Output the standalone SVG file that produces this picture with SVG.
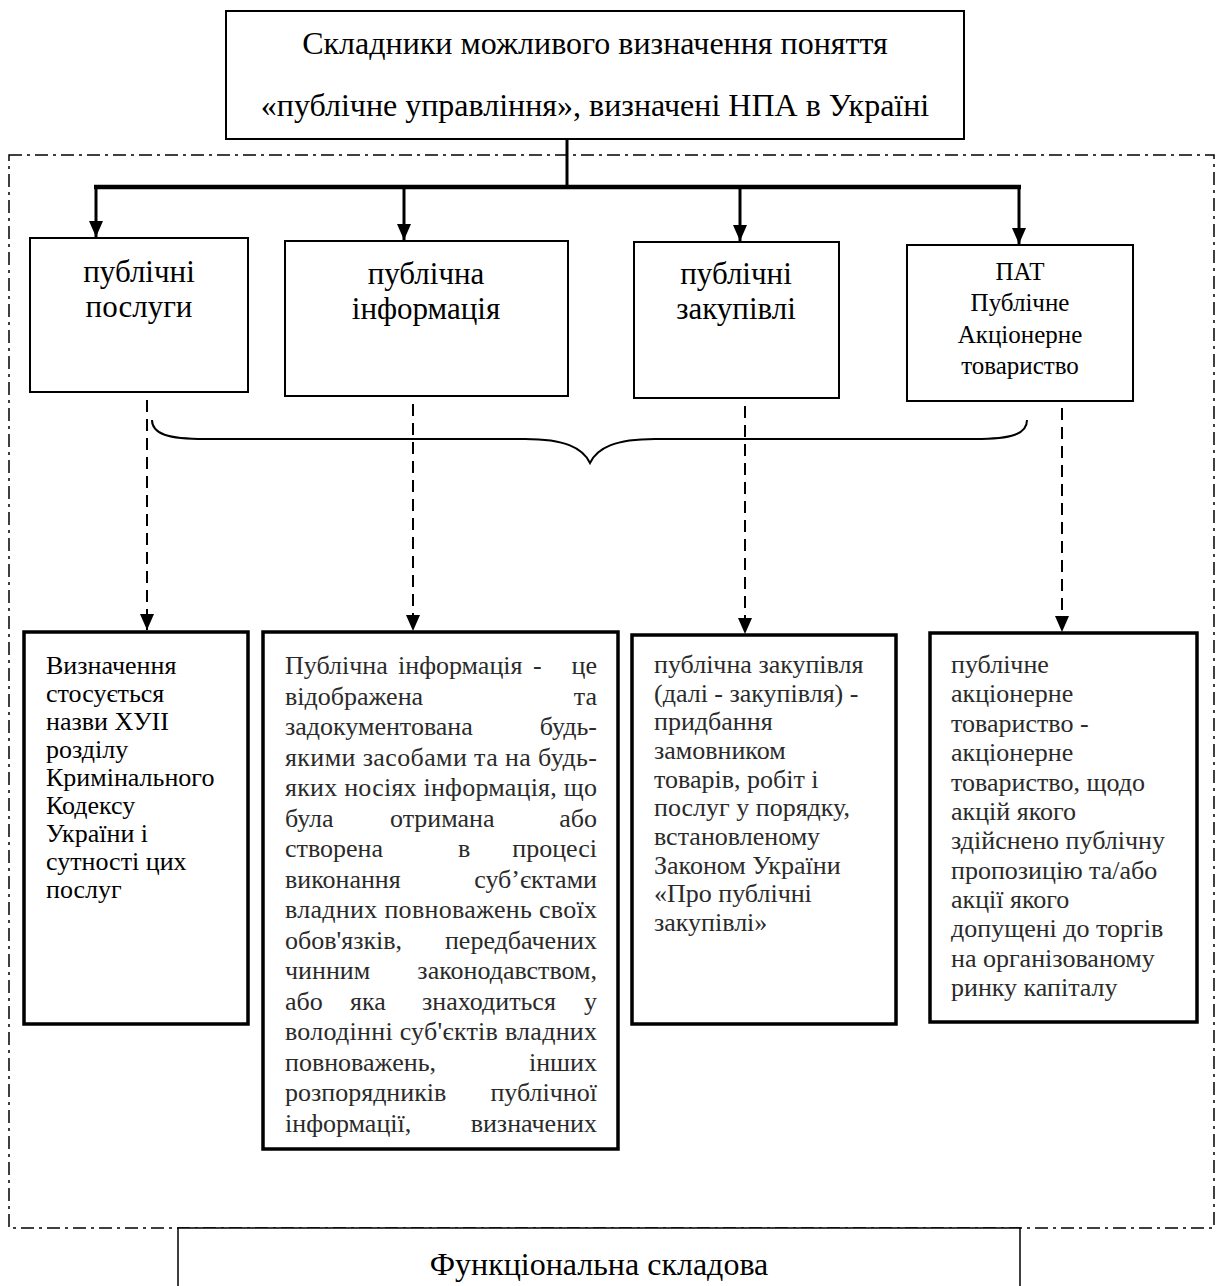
<svg xmlns="http://www.w3.org/2000/svg" width="1217" height="1286" viewBox="0 0 1217 1286">
<style>
text{font-family:"Liberation Serif","Times New Roman",serif;fill:#000}
.big{font-size:32px}
.lab{font-size:31px}
.pat{font-size:25px}
.body{font-size:26px;fill:#2a2a2a}
.bodyA{font-size:26px;fill:#000}
.thin{fill:#fff;stroke:#000;stroke-width:2}
.thick{fill:#fff;stroke:#000;stroke-width:3.5}
.solid{stroke:#000;stroke-width:3;fill:none}
.dash{stroke:#000;stroke-width:2;fill:none;stroke-dasharray:12 7}
.dd{fill:none;stroke:#000;stroke-width:1.5;stroke-dasharray:13 5 3 5}
</style>
<defs>
<marker id="ah" viewBox="0 0 16 14" refX="16" refY="7" markerWidth="16" markerHeight="14" markerUnits="userSpaceOnUse" orient="auto">
<path d="M0,0 L16,7 L0,14 z" fill="#000"/>
</marker>
</defs>
<rect x="0" y="0" width="1217" height="1286" fill="#fff"/>

<g id="frame">
<rect class="dd" x="9" y="155" width="1205" height="1073"/>
</g>

<g id="connectors">
<line class="solid" x1="567" y1="139" x2="567" y2="188"/>
<line x1="94" y1="187" x2="1021" y2="187" stroke="#000" stroke-width="4.5"/>
<line class="solid" x1="96" y1="187" x2="96" y2="237" marker-end="url(#ah)"/>
<line class="solid" x1="404" y1="187" x2="404" y2="240" marker-end="url(#ah)"/>
<line class="solid" x1="740" y1="187" x2="740" y2="241" marker-end="url(#ah)"/>
<line class="solid" x1="1019" y1="187" x2="1019" y2="244" marker-end="url(#ah)"/>
<line class="dash" x1="147" y1="400" x2="147" y2="630" marker-end="url(#ah)"/>
<line class="dash" x1="413" y1="404" x2="413" y2="631" marker-end="url(#ah)"/>
<line class="dash" x1="745" y1="406" x2="745" y2="634" marker-end="url(#ah)"/>
<line class="dash" x1="1062" y1="408" x2="1062" y2="632" marker-end="url(#ah)"/>
<path d="M152,420 C152,434 168,439 205,439 L525,439 C565,439 583,448 590,463 C597,448 615,439 655,439 L975,439 C1012,439 1027,434 1027,420" fill="none" stroke="#000" stroke-width="2"/>
</g>

<g id="title">
<rect class="thin" x="226" y="11" width="738" height="128"/>
<text class="big" x="595" y="54" text-anchor="middle">Складники можливого визначення поняття</text>
<text class="big" x="595" y="116" text-anchor="middle">«публічне управління», визначені НПА в Україні</text>
</g>

<g id="n1">
<rect class="thin" x="30" y="238" width="218" height="154"/>
<text class="lab" x="139" y="282" text-anchor="middle">публічні</text>
<text class="lab" x="139" y="317" text-anchor="middle">послуги</text>
</g>
<g id="n2">
<rect class="thin" x="285" y="241" width="283" height="155"/>
<text class="lab" x="426" y="284" text-anchor="middle">публічна</text>
<text class="lab" x="426" y="319" text-anchor="middle">інформація</text>
</g>
<g id="n3">
<rect class="thin" x="634" y="242" width="205" height="156"/>
<text class="lab" x="736" y="284" text-anchor="middle">публічні</text>
<text class="lab" x="736" y="319" text-anchor="middle">закупівлі</text>
</g>
<g id="n4">
<rect class="thin" x="907" y="245" width="226" height="156"/>
<text class="pat" x="1020" y="280" text-anchor="middle">ПАТ</text>
<text class="pat" x="1020" y="311" text-anchor="middle">Публічне</text>
<text class="pat" x="1020" y="343" text-anchor="middle">Акціонерне</text>
<text class="pat" x="1020" y="374" text-anchor="middle">товариство</text>
</g>

<g id="d1">
<rect class="thick" x="24" y="632" width="224" height="392"/>
<text class="bodyA" x="46" y="674">Визначення</text>
<text class="bodyA" x="46" y="702">стосується</text>
<text class="bodyA" x="46" y="730">назви ХУІІ</text>
<text class="bodyA" x="46" y="758">розділу</text>
<text class="bodyA" x="46" y="786">Кримінального</text>
<text class="bodyA" x="46" y="814">Кодексу</text>
<text class="bodyA" x="46" y="842">України і</text>
<text class="bodyA" x="46" y="870">сутності цих</text>
<text class="bodyA" x="46" y="898">послуг</text>
</g>

<g id="d2">
<rect class="thick" x="263" y="632" width="355" height="517"/>
<text class="body" x="285" y="674">Публічна</text>
<text class="body" x="398" y="674">інформація</text>
<text class="body" x="533" y="674">-</text>
<text class="body" x="597" y="674" text-anchor="end">це</text>
<text class="body" x="285" y="704.5">відображена</text>
<text class="body" x="597" y="704.5" text-anchor="end">та</text>
<text class="body" x="285" y="735">задокументована</text>
<text class="body" x="597" y="735" text-anchor="end">будь-</text>
<text class="body" x="285" y="765.5" textLength="312" lengthAdjust="spacing">якими засобами та на будь-</text>
<text class="body" x="285" y="796" textLength="312" lengthAdjust="spacing">яких носіях інформація, що</text>
<text class="body" x="285" y="826.5">була</text>
<text class="body" x="390" y="826.5">отримана</text>
<text class="body" x="597" y="826.5" text-anchor="end">або</text>
<text class="body" x="285" y="857">створена</text>
<text class="body" x="458" y="857">в</text>
<text class="body" x="597" y="857" text-anchor="end">процесі</text>
<text class="body" x="285" y="887.5">виконання</text>
<text class="body" x="597" y="887.5" text-anchor="end">суб’єктами</text>
<text class="body" x="285" y="918" textLength="312" lengthAdjust="spacing">владних повноважень своїх</text>
<text class="body" x="285" y="948.5">обов'язків,</text>
<text class="body" x="597" y="948.5" text-anchor="end">передбачених</text>
<text class="body" x="285" y="979">чинним</text>
<text class="body" x="597" y="979" text-anchor="end">законодавством,</text>
<text class="body" x="285" y="1009.5">або</text>
<text class="body" x="350" y="1009.5">яка</text>
<text class="body" x="422" y="1009.5">знаходиться</text>
<text class="body" x="597" y="1009.5" text-anchor="end">у</text>
<text class="body" x="285" y="1040" textLength="312" lengthAdjust="spacing">володінні суб'єктів владних</text>
<text class="body" x="285" y="1070.5">повноважень,</text>
<text class="body" x="597" y="1070.5" text-anchor="end">інших</text>
<text class="body" x="285" y="1101">розпорядників</text>
<text class="body" x="597" y="1101" text-anchor="end">публічної</text>
<text class="body" x="285" y="1131.5">інформації,</text>
<text class="body" x="597" y="1131.5" text-anchor="end">визначених</text>
</g>

<g id="d3">
<rect class="thick" x="632" y="635" width="264" height="389"/>
<text class="body" x="654" y="673">публічна закупівля</text>
<text class="body" x="654" y="702">(далі - закупівля) -</text>
<text class="body" x="654" y="730">придбання</text>
<text class="body" x="654" y="759">замовником</text>
<text class="body" x="654" y="788">товарів, робіт і</text>
<text class="body" x="654" y="816">послуг у порядку,</text>
<text class="body" x="654" y="845">встановленому</text>
<text class="body" x="654" y="874">Законом України</text>
<text class="body" x="654" y="902">«Про публічні</text>
<text class="body" x="654" y="931">закупівлі»</text>
</g>

<g id="d4">
<rect class="thick" x="930" y="633" width="267" height="389"/>
<text class="body" x="951" y="673">публічне</text>
<text class="body" x="951" y="702">акціонерне</text>
<text class="body" x="951" y="732">товариство -</text>
<text class="body" x="951" y="761">акціонерне</text>
<text class="body" x="951" y="791">товариство, щодо</text>
<text class="body" x="951" y="820">акцій якого</text>
<text class="body" x="951" y="849">здійснено публічну</text>
<text class="body" x="951" y="879">пропозицію та/або</text>
<text class="body" x="951" y="908">акції якого</text>
<text class="body" x="951" y="937">допущені до торгів</text>
<text class="body" x="951" y="967">на організованому</text>
<text class="body" x="951" y="996">ринку капіталу</text>
</g>

<g id="func">
<rect x="178" y="1228" width="842" height="80" fill="#fff" stroke="#000" stroke-width="1.5"/>
<text class="big" x="599" y="1275" text-anchor="middle">Функціональна  складова</text>
</g>
</svg>
